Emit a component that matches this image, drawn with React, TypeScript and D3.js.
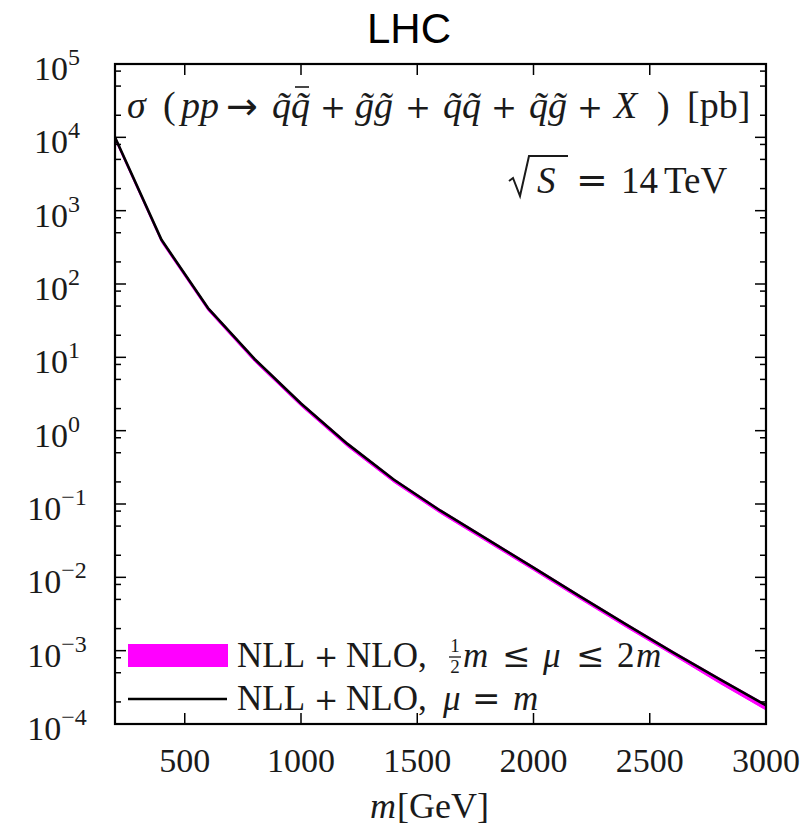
import React from 'react';
import * as d3 from 'd3';

// squark/gluino mass points [GeV] and NLL+NLO cross sections [pb]
const masses = [200, 400, 600, 800, 1000, 1200, 1400, 1600, 1800, 2000, 2200, 2400, 2600, 2800, 3000];
const sigmaCentral = [1.0e4, 400, 47, 9.5, 2.35, 0.66, 0.214, 0.081, 0.0332, 0.0136, 5.5e-3, 2.26e-3, 9.5e-4, 4.1e-4, 1.8e-4];
const sigmaLow = [9.3e3, 370, 43.5, 8.75, 2.16, 0.605, 0.197, 0.0745, 0.0305, 0.0125, 5.05e-3, 2.07e-3, 8.7e-4, 3.6e-4, 1.55e-4];
const sigmaHigh = [1.04e4, 412, 48.5, 9.8, 2.42, 0.68, 0.22, 0.0835, 0.0342, 0.014, 5.67e-3, 2.33e-3, 9.8e-4, 4.22e-4, 1.85e-4];

const xTicks = [500, 1000, 1500, 2000, 2500, 3000];
const yExponents = [-4, -3, -2, -1, 0, 1, 2, 3, 4, 5];
const minorFactors = [2, 5, 8];

const W = 802;
const H = 835;
const left = 115, right = 766, top = 64, bottom = 724;

const serif = "'Liberation Serif', 'Times New Roman', serif";
const opFont = "'DejaVu Serif', serif";
const sans = "'Liberation Sans', Arial, sans-serif";
const ink = '#1a1a1a';
const magenta = '#ff00ff';

type P = { t: string; x: number; y: number; italic?: boolean; size?: number; font?: string };

const Piece = ({ t, x, y, italic, size = 34, font = serif }: P) => (
    <text x={x} y={y} fontFamily={font} fontSize={size} fontStyle={italic ? 'italic' : 'normal'} fill={ink}>{t}</text>
);

const App = () => {
    const x = d3.scaleLinear().domain([200, 3000]).range([left, right]);
    const y = d3.scaleLog().domain([1e-4, 1e5]).range([bottom, top]);

    const line = d3.line<number>()
        .x((_, i) => x(masses[i]))
        .y(d => y(d));

    const band = d3.area<number>()
        .x((_, i) => x(masses[i]))
        .y0(d => y(d))
        .y1((_, i) => y(sigmaHigh[i]));

    const minorTicks: number[] = [];
    yExponents.slice(0, -1).forEach(e => {
        minorFactors.forEach(f => minorTicks.push(f * Math.pow(10, e)));
    });

    const majorLen = 11;
    const minorLen = 6;

    // process label, TeX-like layout
    const py = 118;
    const proc: P[] = [
        { t: 'σ', x: 127, y: py, italic: true, size: 38 },
        { t: '(', x: 163, y: py, size: 38 },
        { t: 'pp', x: 181, y: py, italic: true, size: 38 },
        { t: '→', x: 226, y: py + 1, size: 38, font: "'DejaVu Sans', sans-serif" },
        { t: 'q\u0303', x: 272, y: py, italic: true, size: 38 },
        { t: 'q\u0303', x: 291, y: py, italic: true, size: 38 },
        { t: '+', x: 320, y: py, size: 31, font: opFont },
        { t: 'g\u0303g\u0303', x: 355, y: py, italic: true, size: 38 },
        { t: '+', x: 405, y: py, size: 31, font: opFont },
        { t: 'q\u0303q\u0303', x: 443, y: py, italic: true, size: 38 },
        { t: '+', x: 491, y: py, size: 31, font: opFont },
        { t: 'q\u0303g\u0303', x: 529, y: py, italic: true, size: 38 },
        { t: '+', x: 577, y: py, size: 31, font: opFont },
        { t: 'X', x: 614, y: py, italic: true, size: 38 },
        { t: ')', x: 657, y: py, size: 38 },
        { t: '[pb]', x: 687, y: py, size: 38 },
    ];

    return (
        <svg width={W} height={H} style={{ position: 'absolute', left: 0, top: 0, background: '#fff' }}>
            <defs>
                <clipPath id="plotArea">
                    <rect x={left} y={top} width={right - left} height={bottom - top} />
                </clipPath>
            </defs>

            {/* title */}
            <text x={409} y={43} textAnchor="middle" fontFamily={sans} fontSize={42} fill="#000">LHC</text>

            {/* band + central line */}
            <g clipPath="url(#plotArea)">
                <path d={band(sigmaLow) || ''} fill={magenta} stroke={magenta} strokeWidth={1} />
                <path d={line(sigmaCentral) || ''} fill="none" stroke="#000" strokeWidth={2.6} strokeLinejoin="round" />
            </g>

            {/* frame */}
            <rect x={left} y={top} width={right - left} height={bottom - top} fill="none" stroke="#000" strokeWidth={2.2} />

            {/* x ticks bottom and top */}
            {xTicks.map(t => (
                <g key={'xt' + t}>
                    <line x1={x(t)} x2={x(t)} y1={bottom} y2={bottom - majorLen} stroke="#000" strokeWidth={1.5} />
                    <line x1={x(t)} x2={x(t)} y1={top} y2={top + majorLen} stroke="#000" strokeWidth={1.5} />
                    <text x={x(t)} y={772} textAnchor="middle" fontFamily={serif} fontSize={34} fill={ink}>{t}</text>
                </g>
            ))}

            {/* y ticks, both sides */}
            {yExponents.map(e => (
                <g key={'ym' + e}>
                    <line x1={left} x2={left + majorLen} y1={y(Math.pow(10, e))} y2={y(Math.pow(10, e))} stroke="#000" strokeWidth={1.5} />
                    <line x1={right} x2={right - majorLen} y1={y(Math.pow(10, e))} y2={y(Math.pow(10, e))} stroke="#000" strokeWidth={1.5} />
                    <text x={57} y={y(Math.pow(10, e)) + 16} textAnchor="middle" fontFamily={serif} fontSize={34} fill={ink}>
                        10<tspan fontSize={24} dy={-15}>{e < 0 ? '\u2212' + (-e) : e}</tspan>
                    </text>
                </g>
            ))}
            {minorTicks.map((v, i) => (
                <g key={'yn' + i}>
                    <line x1={left} x2={left + minorLen} y1={y(v)} y2={y(v)} stroke="#000" strokeWidth={1.5} />
                    <line x1={right} x2={right - minorLen} y1={y(v)} y2={y(v)} stroke="#000" strokeWidth={1.5} />
                </g>
            ))}

            {/* x axis title */}
            <Piece t="m" x={370} y={818} italic size={36} />
            <Piece t="[GeV]" x={397} y={818} size={36} />

            {/* process annotation */}
            {proc.map((p, i) => <Piece key={'pp' + i} {...p} />)}
            <line x1={295} x2={309} y1={87} y2={87} stroke={ink} strokeWidth={1.6} />

            {/* sqrt(S) = 14 TeV */}
            <path d="M509,181 L513,178 L520,196 L529,156 L568,156" fill="none" stroke={ink} strokeWidth={2} />
            <Piece t="S" x={537} y={193} italic size={37} />
            <Piece t="=" x={576} y={193} size={38} font={opFont} />
            <Piece t="14" x={621} y={193} size={37} />
            <Piece t="TeV" x={664} y={193} size={37} />

            {/* legend */}
            <rect x={128} y={644} width={100} height={23} fill={magenta} />
            <Piece t="NLL" x={237} y={667} size={35} />
            <Piece t="+" x={314} y={667} size={29} font={opFont} />
            <Piece t="NLO," x={346} y={667} size={35} />
            <text x={455} y={652} textAnchor="middle" fontFamily={serif} fontSize={19} fill={ink}>1</text>
            <line x1={449} x2={461} y1={657} y2={657} stroke={ink} strokeWidth={1.3} />
            <text x={455} y={673} textAnchor="middle" fontFamily={serif} fontSize={19} fill={ink}>2</text>
            <Piece t="m" x={463} y={667} italic size={35} />
            <Piece t="≤" x={502} y={667} size={34} font={opFont} />
            <Piece t="μ" x={543} y={667} italic size={35} />
            <Piece t="≤" x={576} y={667} size={34} font={opFont} />
            <Piece t="2" x={617} y={667} size={35} />
            <Piece t="m" x={636} y={667} italic size={35} />

            <line x1={128} x2={227} y1={699} y2={699} stroke="#000" strokeWidth={2.4} />
            <Piece t="NLL" x={237} y={710} size={35} />
            <Piece t="+" x={314} y={710} size={29} font={opFont} />
            <Piece t="NLO," x={346} y={710} size={35} />
            <Piece t="μ" x={443} y={710} italic size={35} />
            <Piece t="=" x={472} y={710} size={34} font={opFont} />
            <Piece t="m" x={513} y={710} italic size={35} />
        </svg>
    );
};

export default App;
